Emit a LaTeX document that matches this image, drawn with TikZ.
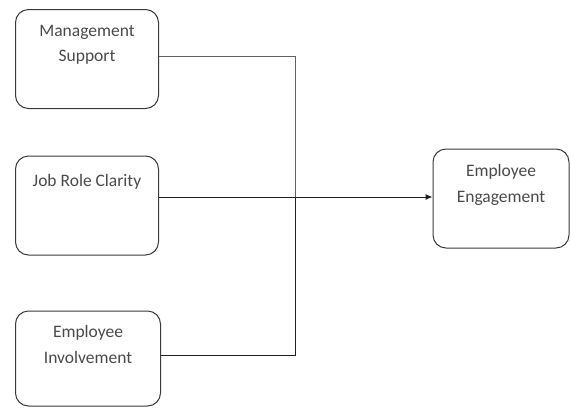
\documentclass[tikz,border=0pt]{standalone}
\usepackage{fontspec}
\setmainfont{Carlito}
\usetikzlibrary{arrows.meta}
\definecolor{boxline}{HTML}{3A3A3A}
\definecolor{txt}{HTML}{4A4A4A}
\definecolor{conn}{HTML}{202020}
\tikzset{
  box/.style={draw=boxline, line width=1pt, rounded corners=13pt, minimum width=#1, inner sep=0pt},
  box/.default=143pt,
  lbl/.style={anchor=north, align=center, text=txt, font=\fontsize{17.5}{25.5}\selectfont, inner sep=0pt},
  conn/.style={draw=conn, line width=1pt},
}
\begin{document}
\begin{tikzpicture}[x=1pt,y=-1pt]
\useasboundingbox (0,0) rectangle (570,407);
\node[box, minimum height=99pt] (b1) at (87,59) {};
\node[box, minimum height=99pt] (b2) at (87,205.5) {};
\node[box=145pt, minimum height=95pt] (b3) at (88,358.5) {};
\node[box=136pt, minimum height=99pt] (b4) at (501,198.5) {};
\node[lbl] (t1) at ([yshift=-16pt]b1.north) {Management\\Support};
\node[lbl] (t2) at ([yshift=-19pt]b2.north) {Job Role Clarity};
\node[lbl] (t3) at ([yshift=-15pt]b3.north) {Employee\\Involvement};
\node[lbl] (t4) at ([yshift=-16pt]b4.north) {Employee\\Engagement};
\coordinate (j) at (295,197);
\draw[conn, draw=conn!70] ([yshift=3pt]b1.east) -| (j);
\draw[conn] ([yshift=3.5pt]b3.east) -| (j);
\draw[conn, -{Latex[length=7pt,width=6pt]}] ([yshift=8.5pt]b2.east) -- ([yshift=1.5pt]b4.west);
\end{tikzpicture}
\end{document}
